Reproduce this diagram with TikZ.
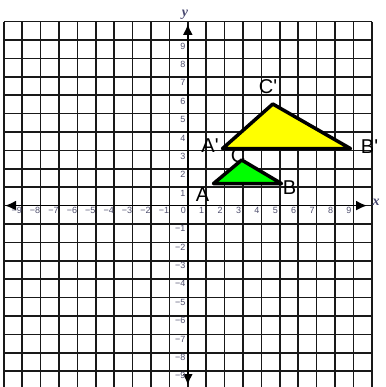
\documentclass[tikz,border=0pt]{standalone}
\usepackage{fontspec}
\setmainfont{Liberation Sans}
\newfontfamily\axserif{Liberation Serif}
\newfontfamily\ptfont{Liberation Sans}
\usetikzlibrary{arrows.meta}
\definecolor{ticklab}{RGB}{80,80,110}
\definecolor{axlab}{RGB}{70,70,110}
\definecolor{trigreen}{RGB}{0,255,0}
\definecolor{triyellow}{RGB}{255,255,0}
\tikzset{
  gridline/.style={line width=1.6pt, draw=black!90},
  axisline/.style={line width=1.6pt, draw=black, -{Latex[length=11pt,width=10pt]}},
  ticklabel/.style={font=\fontsize{9}{10}\selectfont, text=ticklab, inner sep=0pt},
  axislabel/.style={font=\axserif\bfseries\itshape\fontsize{14}{15}\selectfont, text=axlab, inner sep=0pt},
  ptlabel/.style={font=\ptfont\fontsize{20}{22}\selectfont, inner sep=0pt},
  tri/.style={line width=3.5pt, draw=black, line join=round},
}
\begin{document}
\begin{tikzpicture}[x=1pt,y=-1pt]
\useasboundingbox (0,0) rectangle (385,387);
\clip (0,0) rectangle (385,387);
\fill[white] (0,0) rectangle (385,387);
% grid
\foreach \i in {-10,...,10} {
  \draw[gridline] ({187.8+18.4*\i},21.6) -- ({187.8+18.4*\i},389.6);
  \draw[gridline] (3.8,{205.6-18.4*\i}) -- (371.8,{205.6-18.4*\i});
}
% axes
\coordinate (O) at (187.8,205.6);
\coordinate (xneg) at (5,205.6);
\coordinate (xpos) at (367,205.6);
\coordinate (ypos) at (187.8,24);
\coordinate (yneg) at (187.8,385);
\draw[axisline] (O) -- (xpos);
\draw[axisline] (O) -- (xneg);
\draw[axisline] (O) -- (ypos);
\draw[axisline] (O) -- (yneg);
\node[axislabel] (xlab) at (376,202) {x};
\node[axislabel] (ylab) at (185,15) {y};
% tick labels
\node[ticklabel] (t0) at (183.3,210.8) {0};
\foreach \i in {1,...,9} {
  \node[ticklabel] (xp\i) at ({187.8+18.4*\i-4.5},210.8) {\i};
  \node[ticklabel] (xn\i) at ({187.8-18.4*\i-5.5},210.8) {−\i};
  \node[ticklabel, anchor=east] (yp\i) at (185.5,{205.6-18.4*\i+6}) {\i};
  \node[ticklabel, anchor=east] (yn\i) at (185.5,{205.6+18.4*\i+4.5}) {−\i};
}
% green triangle
\node[ptlabel] (labC) at (238,155.5) {C};
\coordinate (GA) at (213.5,183.6);
\coordinate (GB) at (281.5,183.6);
\coordinate (GC) at (241.7,160);
\draw[tri, fill=trigreen] (GA) -- (GB) -- (GC) -- cycle;
% yellow triangle
\coordinate (YA) at (222.5,148.6);
\coordinate (YB) at (350.5,148.6);
\coordinate (YC) at (272.8,104);
\draw[tri, fill=triyellow] (YA) -- (YB) -- (YC) -- cycle;
% point labels
\node[ptlabel] (labA) at (202.5,195) {A};
\node[ptlabel] (labB) at (289.5,187.5) {B};
\node[ptlabel] (labAp) at (210,145.5) {A\char39};
\node[ptlabel] (labBp) at (369.5,146.5) {B\char39};
\node[ptlabel] (labCp) at (268,86.5) {C\char39};
\end{tikzpicture}
\end{document}
